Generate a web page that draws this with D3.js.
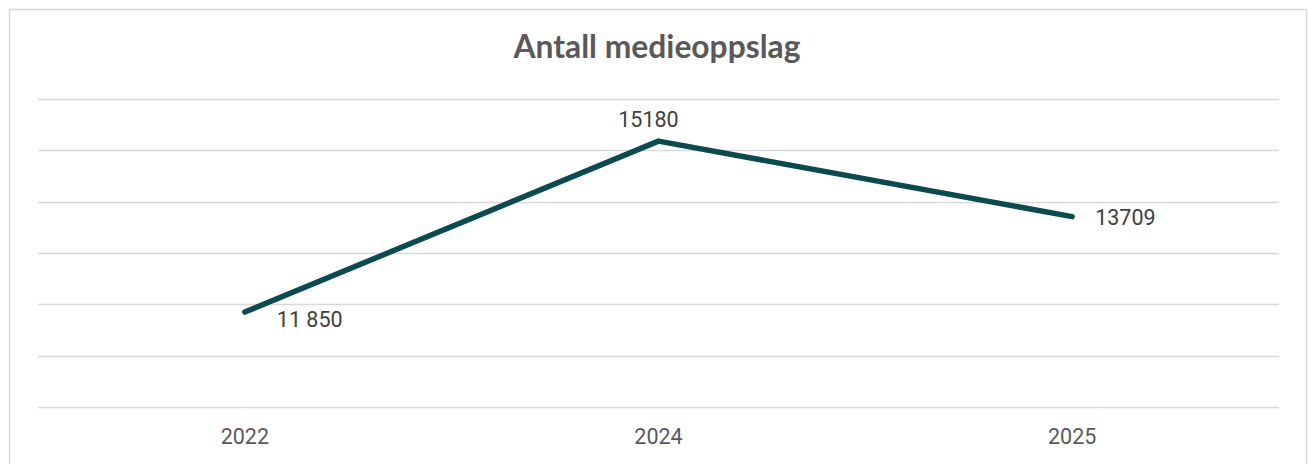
<!DOCTYPE html>
<html><head><meta charset="utf-8">
<script src="https://cdn.jsdelivr.net/npm/d3@7"></script>
<style>body{margin:0;background:#fff}svg{display:block}</style>
</head><body><svg id="c" width="1308" height="464"></svg>
<script>
const title = "Antall medieoppslag";
const categories = ["2022", "2024", "2025"];
const values = [11850, 15180, 13709];
const valueLabels = ["11 850", "15180", "13709"];
const yTicks = [10000, 11000, 12000, 13000, 14000, 15000, 16000];

const svg = d3.select("#c");
svg.append("rect").attr("x", 9.5).attr("y", 9.5).attr("width", 1297).attr("height", 470)
  .attr("fill", "#fff").attr("stroke", "#d9d9d9").attr("stroke-width", 1.5);

const x = d3.scaleBand().domain(categories).range([38, 1279]);
const y = d3.scaleLinear().domain([10000, 16000]).range([407, 99]);

svg.append("g").selectAll("line").data(yTicks).join("line")
  .attr("x1", 38).attr("x2", 1279)
  .attr("y1", d => Math.round(y(d)) + 0.5).attr("y2", d => Math.round(y(d)) + 0.5)
  .attr("stroke", "#d9d9d9").attr("stroke-width", 1.5);

const xAxis = svg.append("g").attr("transform", "translate(0,407)")
  .call(d3.axisBottom(x).tickSize(0).tickPadding(22));
xAxis.select(".domain").remove();
xAxis.selectAll("text").attr("font-family", "Roboto, sans-serif").attr("font-size", 21.5)
  .attr("fill", "#595959");

const line = d3.line().x((d, i) => x(categories[i]) + x.bandwidth() / 2).y(d => y(d));
svg.append("path").datum(values).attr("d", line)
  .attr("fill", "none").attr("stroke", "#0b4a4f").attr("stroke-width", 5.5)
  .attr("stroke-linecap", "round").attr("stroke-linejoin", "round");

const offsets = [[32, 15, "start"], [-10, -14, "middle"], [23, 8, "start"]];
svg.append("g").selectAll("text").data(values).join("text")
  .attr("x", (d, i) => x(categories[i]) + x.bandwidth() / 2 + offsets[i][0])
  .attr("y", (d, i) => y(d) + offsets[i][1])
  .attr("text-anchor", (d, i) => offsets[i][2])
  .attr("font-family", "Roboto, sans-serif").attr("font-size", 21.5).attr("fill", "#404040")
  .text((d, i) => valueLabels[i]);

const t = svg.append("text").attr("x", 657).attr("y", 58).attr("text-anchor", "middle")
  .attr("font-family", "Lato, sans-serif").attr("font-weight", 700).attr("font-size", 27)
  .attr("fill", "#595959").text(title);
const tw = t.node().getComputedTextLength();
t.attr("font-size", 27 * 287 / tw);
</script></body></html>
